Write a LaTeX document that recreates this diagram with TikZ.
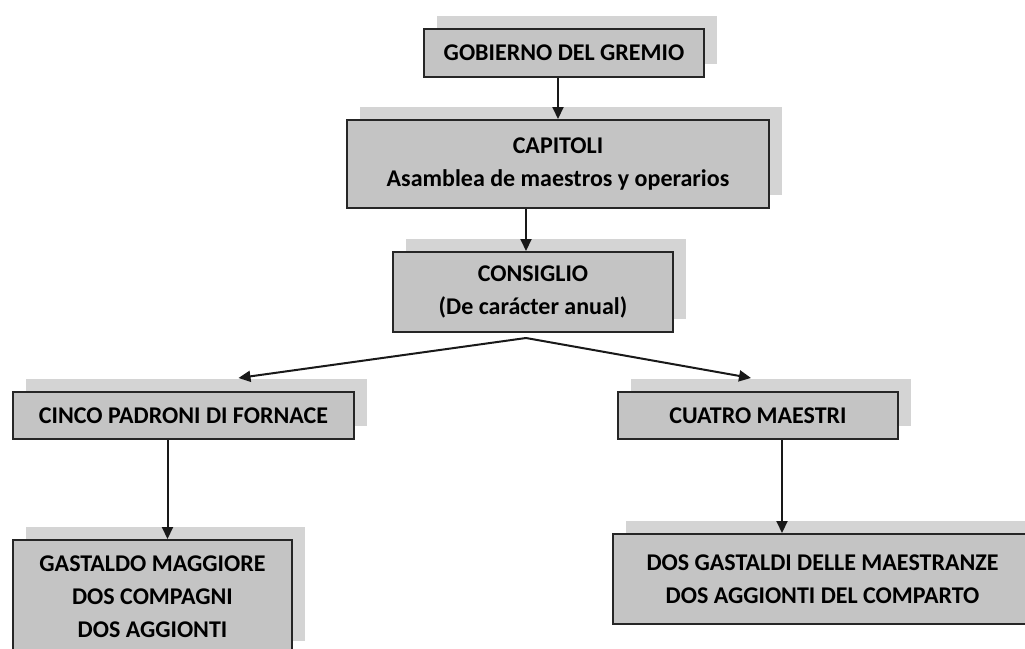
\documentclass[tikz,border=0pt]{standalone}
\usepackage{fontspec}
\setmainfont{Carlito}
\usetikzlibrary{arrows.meta,shadows,calc}
\definecolor{boxfill}{HTML}{C4C4C4}
\definecolor{shgray}{HTML}{D4D4D4}
\definecolor{edge}{HTML}{262626}
\tikzset{
  orgbox/.style={rectangle, draw=edge, line width=2pt, fill=boxfill, anchor=north west,
    inner sep=0pt, align=center, font=\fontsize{24}{33}\selectfont\bfseries,
    drop shadow={shadow xshift=13pt, shadow yshift=13pt, fill=shgray, opacity=1, draw=none}},
  link/.style={line width=2pt, draw=black!90, -{Triangle[width=11pt,length=12pt]}},
  plainlink/.style={line width=2pt, draw=black!90}
}
\begin{document}
\begin{tikzpicture}[x=1pt,y=-1pt]
\useasboundingbox (0,0) rectangle (1025,648);
\clip (0,0) rectangle (1025,648);
\fill[white] (0,0) rectangle (1025,648);
\node[orgbox, minimum width=280pt, minimum height=48pt] (b1) at (423,28) {GOBIERNO DEL GREMIO};
\node[orgbox, minimum width=422pt, minimum height=88pt] (b2) at (346,119) {CAPITOLI\\Asamblea de maestros y operarios};
\node[orgbox, minimum width=280pt, minimum height=80pt] (b3) at (392,251) {CONSIGLIO\\(De carácter anual)};
\node[orgbox, minimum width=341pt, minimum height=47pt] (b4) at (12,391) {CINCO PADRONI DI FORNACE};
\node[orgbox, minimum width=279pt, minimum height=114pt] (b5) at (12,539) {GASTALDO MAGGIORE\\DOS COMPAGNI\\DOS AGGIONTI};
\node[orgbox, minimum width=280pt, minimum height=47pt] (b6) at (617,391) {CUATRO MAESTRI};
\node[orgbox, minimum width=419pt, minimum height=90pt] (b7) at (612,533) {DOS GASTALDI DELLE MAESTRANZE\\DOS AGGIONTI DEL COMPARTO};
% connectors
\draw[link] (b2.north |- b1.south) -- (b2.north);
\draw[link] ([xshift=-7pt]b3.north |- b2.south) -- ([xshift=-7pt]b3.north);
\coordinate (br) at ([xshift=-7pt,yshift=-5pt]b3.south);
\coordinate (t4) at ([xshift=55pt,yshift=13pt]b4.north);
\coordinate (t6) at ([xshift=-7pt,yshift=13pt]b6.north);
\draw[link] (br) -- (t4);
\draw[link] (br) -- (t6);
\draw[link] ([xshift=-16pt]b4.south) -- ([xshift=-16pt]b4.south |- b5.north);
\draw[link] ([xshift=24pt]b6.south) -- ([xshift=24pt]b6.south |- b7.north);
\end{tikzpicture}
\end{document}
